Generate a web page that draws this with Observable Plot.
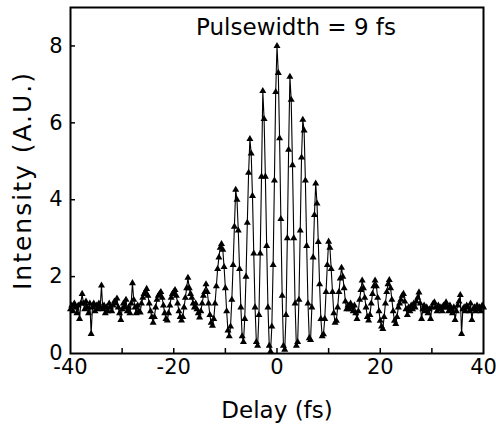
<!DOCTYPE html>
<html><head><meta charset="utf-8">
<script src="https://cdn.jsdelivr.net/npm/d3@7"></script>
<script src="https://cdn.jsdelivr.net/npm/@observablehq/plot@0.6"></script>
<style>body{margin:0;background:#fff}</style>
</head><body><div id="chart"></div>
<script>
const delayStep = 0.25;
const leftWingStart = -40;
const leftWing = [
  1.15, 1.25, 1.10, 1.30,
  1.20, 1.05, 1.25, 0.90,
  1.30, 1.55, 1.30, 1.15,
  1.35, 1.20, 1.05, 1.30,
  0.51, 1.20, 1.30, 1.10,
  1.25, 1.15, 1.30, 1.20,
  1.77, 1.15, 1.25, 1.05,
  1.20, 1.10, 1.30, 1.20,
  1.10, 1.25, 1.35, 1.30,
  1.43, 1.20, 1.05, 0.87,
  1.15, 1.30, 1.20, 1.40,
  1.10, 1.20, 1.05, 1.30,
  1.83, 1.40, 1.20, 1.05,
  1.25, 1.10, 1.07, 1.30,
  1.45, 1.55, 1.60, 1.68,
  1.50, 1.30, 1.10, 0.95,
  0.80, 0.95, 1.20, 1.40,
  1.50, 1.55, 1.60, 1.45,
  1.25, 1.05, 0.90, 0.86,
  1.05, 1.25, 1.45, 1.55,
  1.60, 1.65, 1.50, 1.30,
  1.10, 0.95, 0.86, 0.95,
  1.20, 1.45, 1.70, 1.97,
  1.70, 1.55, 1.45, 1.30,
  1.20, 1.30, 1.15, 1.05,
  0.94, 1.10, 1.30, 1.50,
  1.60
];
const centralStart = -13.75;
const centralFringes = [
  1.80, 1.60, 1.30,
  1.00, 0.80, 0.72, 0.90,
  1.30, 1.75, 2.20, 2.50,
  2.75, 2.85, 2.70, 2.25,
  1.70, 1.10, 0.60, 0.45,
  0.70, 1.40, 2.30, 3.30,
  4.26, 4.00, 3.20, 2.20,
  1.20, 0.45, 0.30, 0.90,
  2.00, 3.40, 4.70, 5.58,
  5.20, 4.10, 2.60, 1.20,
  0.30, 0.20, 1.00, 2.60,
  4.60, 6.83, 6.10, 4.60,
  2.80, 1.20, 0.20, 0.05,
  0.70, 2.30, 4.50, 6.80,
  8.00, 7.30, 5.60, 3.50,
  1.50, 0.20, 0.10, 1.00,
  3.00, 5.30, 7.20, 6.60,
  4.90, 3.00, 1.30, 0.20,
  0.30, 1.40, 3.20, 5.10,
  6.08, 5.80, 4.50, 2.80,
  1.30, 0.40, 0.35, 1.20,
  2.50, 3.60, 4.42, 3.90,
  2.90, 1.80, 0.90, 0.45,
  0.50, 0.90, 1.60, 2.30,
  2.91, 2.75, 2.20, 1.60,
  1.05, 0.80, 0.85, 1.20,
  1.60, 1.95, 2.23, 2.00,
  1.70, 1.35, 1.15, 1.25,
  1.15
];
const rightWingStart = 14.25;
const rightWing = [
  1.30, 1.20, 1.10,
  1.25, 1.05, 0.90, 1.10,
  1.40, 1.65, 1.90, 1.70,
  1.45, 1.20, 0.95, 0.86,
  1.00, 1.30, 1.55, 1.75,
  1.90, 1.75, 1.45, 1.10,
  0.85, 0.70, 0.64, 0.95,
  1.30, 1.60, 1.80, 1.91,
  1.70, 1.40, 1.10, 0.85,
  0.77, 0.95, 1.20, 1.30,
  1.40, 1.50, 1.55, 1.35,
  1.15, 1.00, 1.20, 1.10,
  1.25, 1.15, 1.30, 1.20,
  1.35, 1.45, 1.59, 1.30,
  0.90, 1.15, 1.25, 1.10,
  1.20, 1.05, 1.15, 0.90,
  1.20, 1.30, 1.33, 1.20,
  1.10, 1.25, 1.15, 1.20,
  1.10, 1.25, 1.20, 1.33,
  1.20, 1.10, 1.25, 1.15,
  1.05, 1.20, 0.87, 1.10,
  1.25, 1.35, 1.52, 0.51,
  1.15, 1.20, 1.10, 1.25,
  1.20, 1.10, 1.30, 0.87,
  1.15, 1.20, 1.10, 1.25,
  1.15, 1.20, 1.10, 1.25,
  1.20
];

const xTickLabels = [-40, -20, 0, 20, 40];
const xTickMarks = [-30, -20, -10, 0, 10, 20, 30];
const yTickLabels = [0, 2, 4, 6, 8];
const yTickMarks = [2, 4, 6, 8];
const titleText = "Pulsewidth = 9 fs";
const xLabel = "Delay (fs)";
const yLabel = "Intensity (A.U.)";

const trace = [];
function addSegment(values, start) {
  values.forEach((v, i) => trace.push({delay: start + i * delayStep, intensity: v}));
}
addSegment(leftWing, leftWingStart);
addSegment(centralFringes, centralStart);
addSegment(rightWing, rightWingStart);

const font = "DejaVu Sans";
const plainNumber = d => String(d);
const chart = Plot.plot({
  width: 496, height: 430,
  marginLeft: 70, marginRight: 13, marginTop: 7, marginBottom: 77,
  style: {fontFamily: font, fontSize: "21px", color: "black", background: "white", overflow: "visible"},
  x: {domain: [-40, 40]},
  y: {domain: [0, 9]},
  marks: [
    Plot.line(trace, {x: "delay", y: "intensity", stroke: "black", strokeWidth: 1.1}),
    Plot.dot(trace, {x: "delay", y: "intensity", symbol: "triangle", r: 2.6, fill: "black", stroke: "none"}),
    Plot.axisX(xTickMarks, {tickSize: -5, tickFormat: () => "", strokeWidth: 1.5, label: null}),
    Plot.axisX(xTickLabels, {tickSize: 0, tickPadding: 6, fontSize: 21, tickFormat: plainNumber, label: null}),
    Plot.axisY(yTickMarks, {tickSize: -5, tickFormat: () => "", strokeWidth: 1.5, label: null}),
    Plot.axisY(yTickLabels, {tickSize: 0, tickPadding: 8, fontSize: 21, tickFormat: plainNumber, label: null}),
    Plot.frame({stroke: "black", strokeWidth: 2}),
    Plot.text([titleText], {frameAnchor: "top", dx: 19, dy: 11, lineAnchor: "top", fontSize: 23, text: d => d}),
    Plot.text([xLabel], {frameAnchor: "bottom", dy: 57, lineAnchor: "middle", fontSize: 23, text: d => d}),
    Plot.text([yLabel], {frameAnchor: "left", dx: -48, rotate: -90, textAnchor: "middle", lineAnchor: "middle", fontSize: 25, text: d => d})
  ]
});
d3.select(chart).selectAll("text").filter(function () { return this.textContent === yLabel; })
  .style("letter-spacing", "2px");
document.getElementById("chart").append(chart);
</script>
</body></html>
